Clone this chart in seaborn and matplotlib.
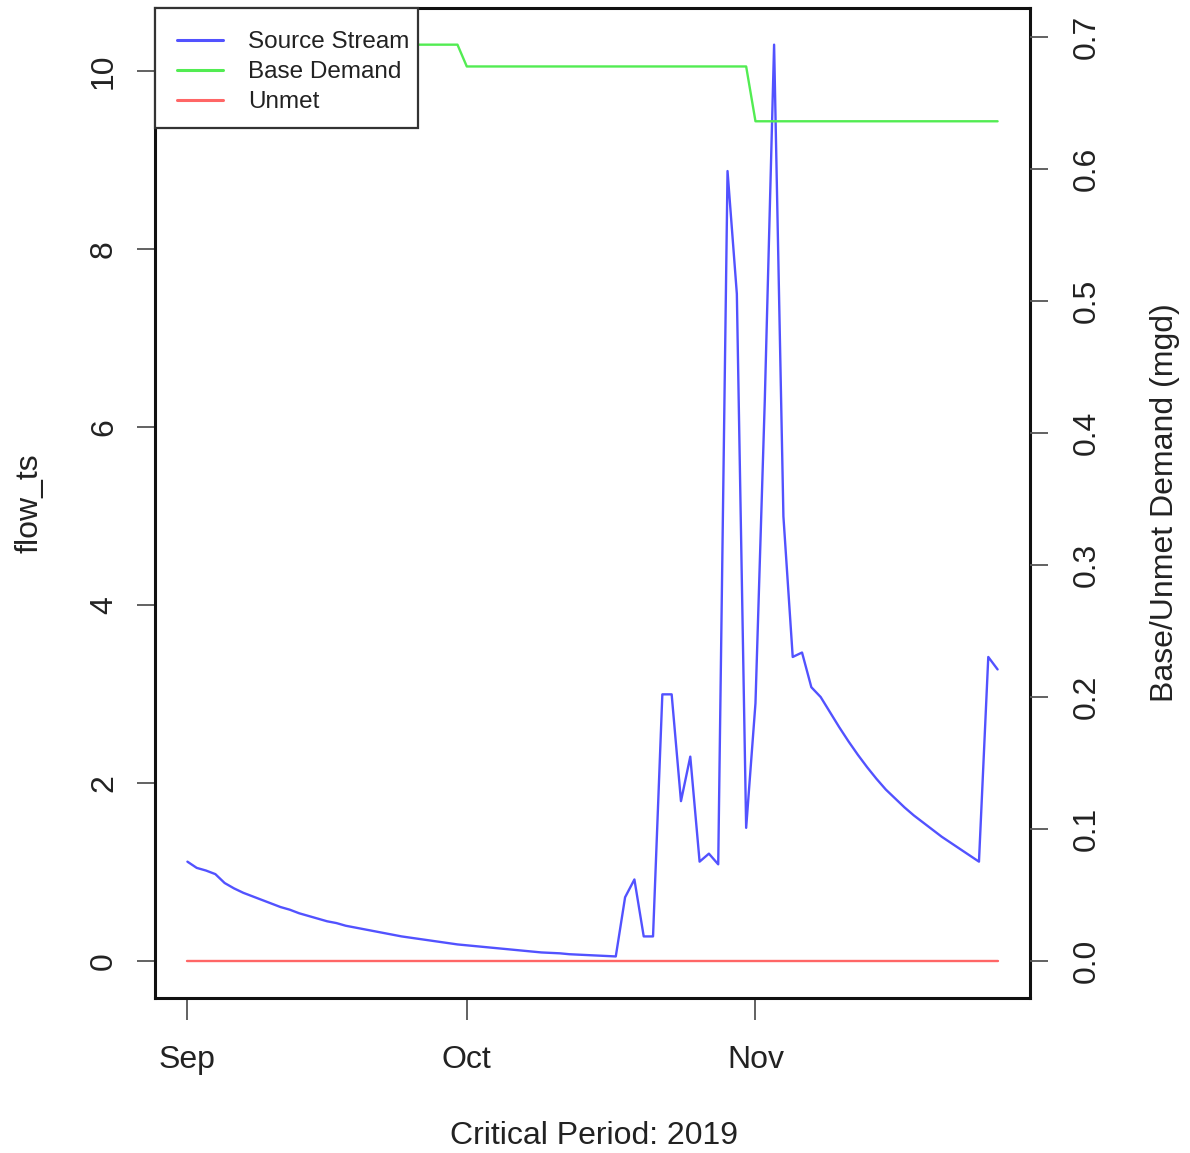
import numpy as np
import pandas as pd
import matplotlib
matplotlib.use("Agg")
import matplotlib.pyplot as plt
from matplotlib.patches import Rectangle
import seaborn as sns

# ---------------- data ----------------
start_date = "2019-09-01"
flow_ts = [1.12, 1.05, 1.02, 0.98, 0.88, 0.82, 0.77, 0.73, 0.69, 0.65,
           0.61, 0.58, 0.54, 0.51, 0.48, 0.45, 0.43, 0.40, 0.38, 0.36,
           0.34, 0.32, 0.30, 0.28, 0.265, 0.25, 0.235, 0.22, 0.205, 0.19,
           0.18, 0.17, 0.16, 0.15, 0.14, 0.13, 0.12, 0.11, 0.10, 0.095,
           0.09, 0.08, 0.075, 0.07, 0.065, 0.06, 0.055, 0.72, 0.92, 0.28,
           0.28, 3.0, 3.0, 1.8, 2.3, 1.12, 1.21, 1.09, 8.88, 7.5,
           1.5, 2.9, 6.3, 10.3, 5.0, 3.42, 3.47, 3.08, 2.97, 2.80,
           2.63, 2.47, 2.32, 2.18, 2.05, 1.93, 1.83, 1.73, 1.64, 1.56,
           1.48, 1.40, 1.33, 1.26, 1.19, 1.12, 3.42, 3.28]
months = [9, 10, 11]
base_demand_month = [0.694, 0.6775, 0.636]
unmet_month = [0.0, 0.0, 0.0]
xtick_dates = ["2019-09-01", "2019-10-01", "2019-11-01"]
xtick_labels = ["Sep", "Oct", "Nov"]
left_ticks = [0, 2, 4, 6, 8, 10]
right_ticks = [0.0, 0.1, 0.2, 0.3, 0.4, 0.5, 0.6, 0.7]
series_labels = ["Source Stream", "Base Demand", "Unmet"]
colors = ["#5252ff", "#52ec52", "#ff6666"]

dates = pd.date_range(start_date, periods=len(flow_ts), freq="D")
base_map = dict(zip(months, base_demand_month))
unmet_map = dict(zip(months, unmet_month))
df = pd.DataFrame({
    "date": dates,
    "flow": flow_ts,
    "base": [base_map[d.month] for d in dates],
    "unmet": [unmet_map[d.month] for d in dates],
})

# ---------------- style ----------------
sns.set_theme(style="white")
plt.rcParams["font.family"] = ["Liberation Sans", "DejaVu Sans"]
TXT = "#222222"

W, H = 1190, 1153
AX_L, AX_R, AX_T, AX_B = 155, 1030, 8, 998
AW, AH = AX_R - AX_L, AX_B - AX_T

fig = plt.figure(figsize=(W / 100, H / 100), dpi=100)
ax = fig.add_axes([AX_L / W, 1 - AX_B / H, AW / W, AH / H])
ax2 = ax.twinx()

sns.lineplot(data=df, x="date", y="flow", ax=ax, color=colors[0], lw=1.7,
             label=series_labels[0], legend=False)
sns.lineplot(data=df, x="date", y="base", ax=ax2, color=colors[1], lw=1.7,
             label=series_labels[1], legend=False)
sns.lineplot(data=df, x="date", y="unmet", ax=ax2, color=colors[2], lw=1.7,
             label=series_labels[2], legend=False)

# R-like 4% padding
span = dates[-1] - dates[0]
ax.set_xlim(dates[0] - 0.04 * span, dates[-1] + 0.04 * span)
fmax = max(flow_ts)
ax.set_ylim(-0.04 * fmax, fmax * 1.04)
bmax = max(base_demand_month)
ax2.set_ylim(-0.04 * bmax, bmax * 1.04)

ax.set_xticks(pd.to_datetime(xtick_dates))
ax.set_xticklabels(xtick_labels)
ax.set_yticks(left_ticks)
ax.set_yticklabels([str(v) for v in left_ticks])
ax2.set_yticks(right_ticks)
ax2.set_yticklabels([f"{v:.1f}" for v in right_ticks])

ax.tick_params(axis="x", direction="out", length=16, width=1.3, color="#555555",
               labelsize=23, labelcolor=TXT, pad=18, bottom=True)
ax.tick_params(axis="y", direction="out", length=13, width=1.3, color="#555555",
               labelsize=23, labelcolor=TXT, pad=13, left=True)
ax2.tick_params(axis="y", direction="out", length=13, width=1.3, color="#555555",
                labelsize=23, labelcolor=TXT, pad=17, right=True)
for lab in ax.get_yticklabels():
    lab.set_rotation(90)
    lab.set_va("center")
for lab in ax2.get_yticklabels():
    lab.set_rotation(90)
    lab.set_va("center")

for s in ax.spines.values():
    s.set_linewidth(2.2)
    s.set_color("#111111")
    s.set_visible(True)
for s in ax2.spines.values():
    s.set_visible(False)

ax.set_xlabel("Critical Period: 2019", fontsize=23, color=TXT)
ax.set_ylabel("flow_ts", fontsize=23, color=TXT)
ax2.set_ylabel("Base/Unmet Demand (mgd)", fontsize=23, color=TXT)
ax.xaxis.set_label_coords(0.502, -0.124)
ax.yaxis.set_label_coords(-0.126, 0.5)
ax2.yaxis.set_label_coords(1.137, 0.5)

# legend box (R style: flush with the top-left corner of the plot frame)
box_w, box_h = 263, 120
ax2.add_patch(Rectangle((0, 1 - box_h / AH), box_w / AW, box_h / AH,
                        transform=ax2.transAxes, facecolor="white",
                        edgecolor="#333333", linewidth=1.6, zorder=4,
                        clip_on=False))
handles = ax.get_lines()[:1] + ax2.get_lines()[:2]
leg = ax2.legend(handles, series_labels, loc="upper left",
                 bbox_to_anchor=((177 - AX_L) / AW, 1 - 23 / AH),
                 borderaxespad=0, borderpad=0, frameon=False,
                 fontsize=17.5, handlelength=1.88, handletextpad=1.03,
                 labelspacing=0.33)
leg.set_zorder(5)
for t in leg.get_texts():
    t.set_color(TXT)
for h in leg.get_lines():
    h.set_linewidth(2.2)

fig.savefig("out.png", dpi=100, facecolor="white")
